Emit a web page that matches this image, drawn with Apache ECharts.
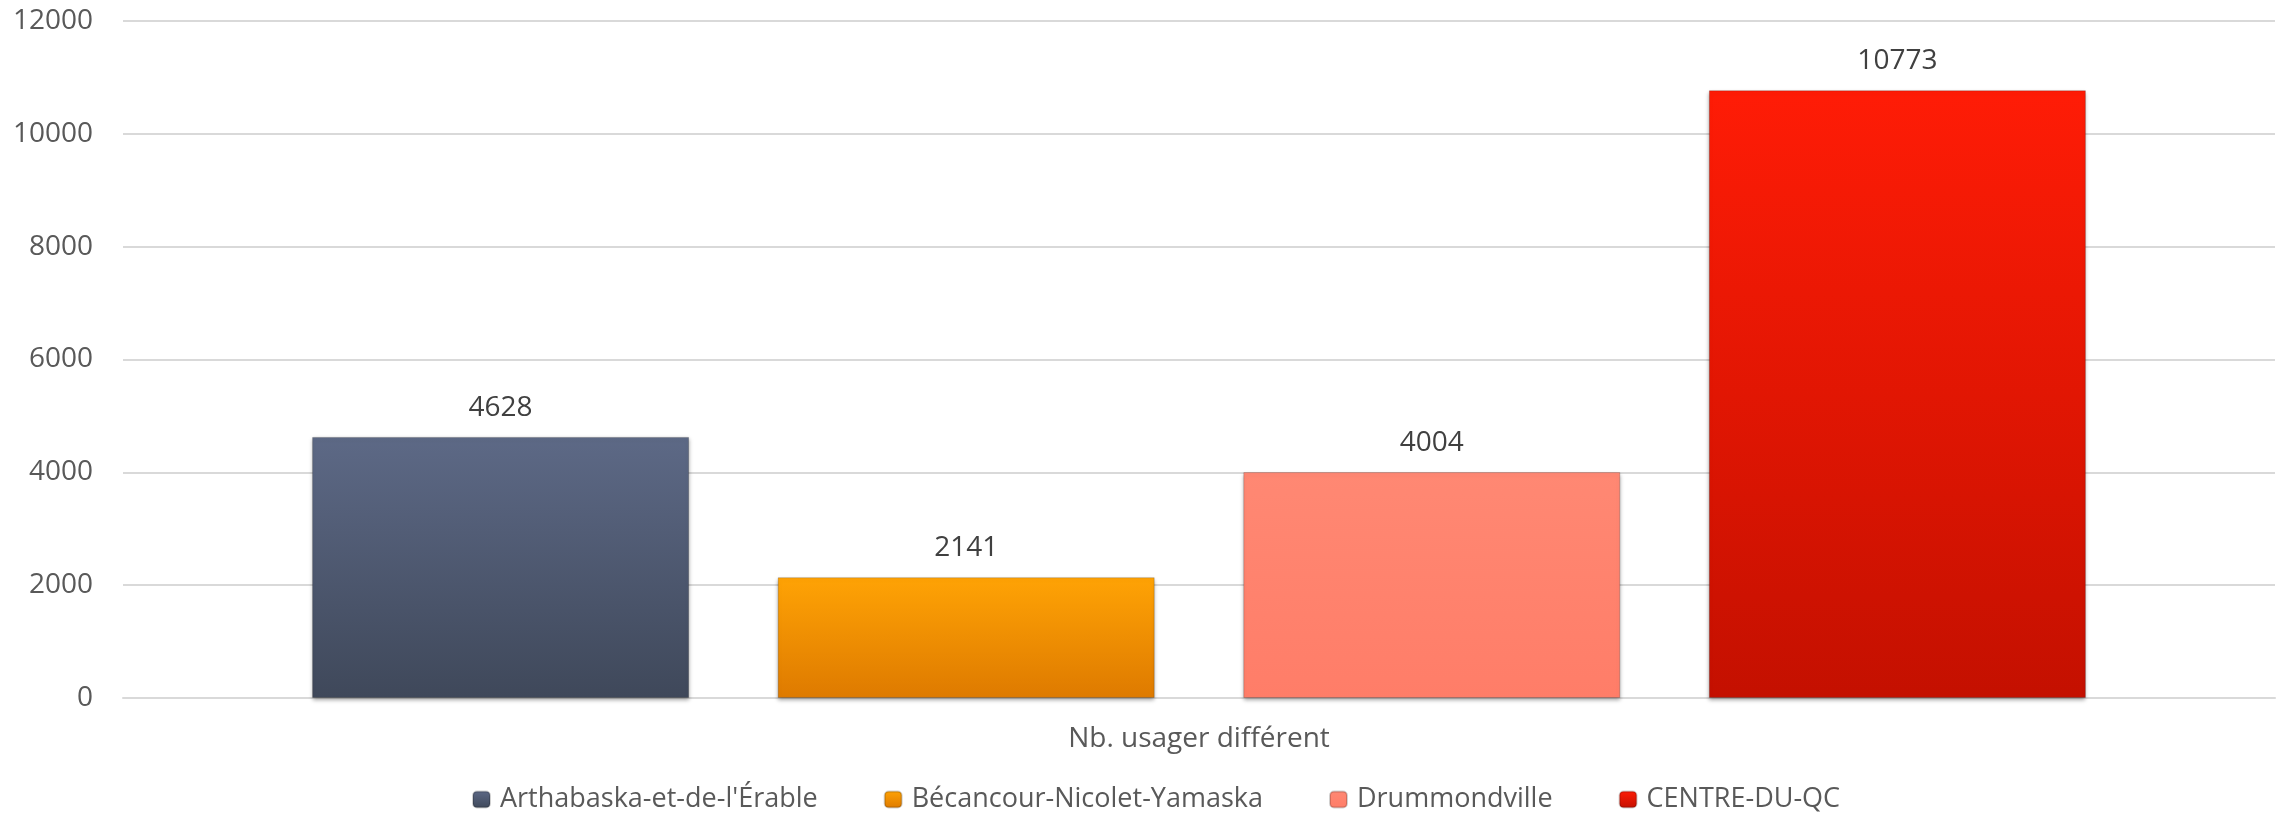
<!DOCTYPE html>
<html>
<head>
<meta charset="utf-8">
<script src="https://cdn.jsdelivr.net/npm/echarts@6/dist/echarts.min.js"></script>
<style>
  html, body { margin: 0; padding: 0; background: #fff; }
  #myChart { width: 2280px; height: 819px; }
</style>
</head>
<body>
<div id="myChart"></div>
<script>
// données du graphique
let categories = ['Nb. usager différent']
let regions = ["Arthabaska-et-de-l'Érable", 'Bécancour-Nicolet-Yamaska', 'Drummondville', 'CENTRE-DU-QC']
let usagers = [4628, 2141, 4004, 10773]
let yTicks = [0, 2000, 4000, 6000, 8000, 10000, 12000]

// couleurs haut / bas de chaque barre
let topColors = ['#5d6986', '#ffa305', '#ff8873', '#ff1c06']
let bottomColors = ['#3f485a', '#de7a00', '#ff7d68', '#c41000']

let font = '"Open Sans", sans-serif'
let myChart = echarts.init(document.getElementById('myChart'))

let series = regions.map(function (name, i) {
    return {
        name: name,
        type: 'bar',
        barWidth: 377,
        barGap: '23.5%',
        data: [usagers[i]],
        itemStyle: {
            color: new echarts.graphic.LinearGradient(0, 0, 0, 1, [
                {offset: 0, color: topColors[i]},
                {offset: 1, color: bottomColors[i]}
            ]),
            borderColor: 'rgba(0,0,0,0.18)',
            borderWidth: 1,
            shadowColor: 'rgba(0,0,0,0.35)',
            shadowBlur: 4,
            shadowOffsetY: 2
        },
        label: {
            show: true,
            position: 'top',
            distance: 15,
            color: '#404040',
            fontSize: 28,
            fontFamily: font
        }
    }
})

myChart.setOption({
    animation: false,
    grid: {
        left: 123,
        right: 5,
        top: 21,
        bottom: 121
    },
    legend: {
        data: regions,
        left: 467,
        bottom: 1,
        itemWidth: 17,
        itemHeight: 16,
        itemGap: 66,
        textStyle: {
            color: '#595959',
            fontSize: 27,
            fontFamily: font,
            padding: [0, 0, 0, 5]
        }
    },
    xAxis: {
        type: 'category',
        data: categories,
        axisLine: {lineStyle: {color: '#d9d9d9', width: 2}},
        axisTick: {show: false},
        axisLabel: {
            color: '#595959',
            fontSize: 28,
            fontFamily: font,
            margin: 27
        }
    },
    yAxis: {
        type: 'value',
        min: yTicks[0],
        max: yTicks[yTicks.length - 1],
        interval: yTicks[1] - yTicks[0],
        axisLine: {show: false},
        axisTick: {show: false},
        axisLabel: {
            color: '#595959',
            fontSize: 28,
            fontFamily: font,
            margin: 30,
            formatter: function (v) { return String(v) }
        },
        splitLine: {lineStyle: {color: '#d9d9d9', width: 2}}
    },
    series: series
})
</script>
</body>
</html>
